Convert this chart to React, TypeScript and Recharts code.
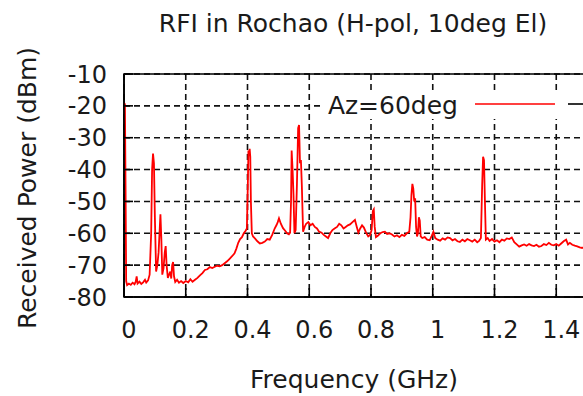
import React from "react";
import {
  LineChart,
  Line,
  XAxis,
  YAxis,
  CartesianGrid,
  ReferenceArea,
} from "recharts";

// spectrum: frequency (GHz) and received power (dBm)
const FREQ_GHZ = [
  0.0, 0.003, 0.005, 0.007, 0.01, 0.016, 0.022, 0.028, 0.034, 0.038, 0.041,
  0.044, 0.05, 0.056, 0.062, 0.068, 0.072, 0.078, 0.083, 0.088, 0.091, 0.094,
  0.097, 0.1, 0.104, 0.108, 0.112, 0.116, 0.118, 0.121, 0.124, 0.128, 0.132,
  0.135, 0.138, 0.142, 0.146, 0.15, 0.153, 0.156, 0.159, 0.162, 0.166, 0.172,
  0.178, 0.185, 0.192, 0.2, 0.208, 0.215, 0.222, 0.23, 0.238, 0.246, 0.254,
  0.262, 0.27, 0.278, 0.286, 0.294, 0.302, 0.31, 0.318, 0.326, 0.334, 0.342,
  0.35, 0.358, 0.364, 0.37, 0.376, 0.382, 0.388, 0.394, 0.398, 0.401, 0.403,
  0.405, 0.407, 0.409, 0.411, 0.414, 0.418, 0.424, 0.432, 0.44, 0.448, 0.456,
  0.464, 0.472, 0.48, 0.488, 0.494, 0.498, 0.502, 0.508, 0.515, 0.522, 0.528,
  0.534, 0.538, 0.541, 0.543, 0.546, 0.549, 0.552, 0.556, 0.56, 0.564, 0.567,
  0.57, 0.573, 0.576, 0.58, 0.585, 0.59, 0.597, 0.604, 0.611, 0.618, 0.625,
  0.632, 0.64, 0.647, 0.654, 0.661, 0.668, 0.675, 0.682, 0.69, 0.697, 0.704,
  0.711, 0.718, 0.725, 0.732, 0.74, 0.748, 0.754, 0.759, 0.765, 0.771, 0.777,
  0.784, 0.791, 0.797, 0.802, 0.806, 0.809, 0.812, 0.816, 0.822, 0.83, 0.838,
  0.845, 0.852, 0.86, 0.868, 0.876, 0.884, 0.892, 0.9, 0.908, 0.916, 0.924,
  0.928, 0.931, 0.934, 0.937, 0.94, 0.943, 0.946, 0.949, 0.952, 0.955, 0.958,
  0.961, 0.966, 0.974, 0.982, 0.99, 0.996, 1.002, 1.008, 1.016, 1.024, 1.032,
  1.04, 1.048, 1.056, 1.064, 1.072, 1.08, 1.088, 1.096, 1.104, 1.112, 1.12,
  1.128, 1.136, 1.144, 1.15, 1.156, 1.16, 1.163, 1.166, 1.169, 1.172, 1.178,
  1.184, 1.192, 1.2, 1.208, 1.216, 1.224, 1.232, 1.24, 1.248, 1.256, 1.264,
  1.272, 1.28, 1.288, 1.296, 1.304, 1.312, 1.32, 1.328, 1.336, 1.344, 1.352,
  1.36, 1.368, 1.376, 1.384, 1.392, 1.4, 1.408, 1.416, 1.424, 1.432, 1.438,
  1.444, 1.452, 1.46, 1.468, 1.476, 1.484, 1.492, 1.5,
];

const POWER_DBM = [
  -19, -19.5, -45, -75, -76.3, -75.8, -76.2, -75.5, -76, -75.2, -73.5, -75.8,
  -75.2, -75.9, -75.4, -74.6, -75.5, -74.8, -73, -60, -40, -35, -38, -55, -72,
  -70, -66, -58, -54, -62, -73, -71, -66, -64, -70, -74, -73, -72, -74.2, -70,
  -69, -73.5, -75.3, -74.6, -75.5, -75, -75.6, -75, -75.4, -74.4, -75.2, -74.6,
  -74, -73.2, -72.5, -71.5, -71.3, -70.6, -70.9, -70.5, -70.2, -70.4, -70,
  -69.4, -68.8, -68, -67.2, -66.3, -64.8, -63, -61.8, -61.2, -60, -59.2, -58.5,
  -45, -34, -35.5, -33.5, -36, -50, -60, -61, -61.6, -62.5, -63.2, -63, -62.6,
  -61.8, -62, -60.5, -58.5, -57.4, -56.5, -55.3, -57, -58.4, -59.2, -60, -60.3,
  -59.8, -50, -34, -40, -48, -60, -59, -45, -27, -26, -38, -37, -45, -59.5, -58,
  -57, -56.5, -57.5, -57, -58, -58.5, -59.5, -59.8, -60.5, -61, -61.5, -60,
  -59, -58.5, -58, -57, -57.5, -58.5, -58, -57.5, -57.2, -56.5, -55.8, -58,
  -59.8, -58.5, -57.5, -58.2, -59.8, -61, -60.5, -59, -53, -52.5, -58, -61.2,
  -60.8, -60, -59.6, -59.5, -60.2, -60, -60.4, -61, -60.6, -61.2, -60.5, -60.8,
  -60, -59.5, -55, -48, -44.5, -46, -50, -49, -58, -61, -60, -55, -56, -61,
  -61.5, -61.2, -62, -62.2, -61, -59.5, -61.5, -62, -62.3, -61.6, -62, -61.3,
  -61.5, -62.2, -61.8, -62.5, -62.7, -62, -62.5, -61.8, -62.2, -62.6, -62,
  -62.8, -62.4, -61.5, -45, -36, -37, -50, -62, -61.5, -62.4, -61.8, -62.6,
  -62.2, -62.8, -62, -62.3, -61.6, -61.8, -61.3, -62.8, -63.5, -64.2, -63.8,
  -63.5, -63.9, -63.4, -63.8, -64, -63.6, -64.2, -64, -63.4, -63.7, -63,
  -63.6, -63.8, -63.4, -63.9, -63.2, -62.5, -62, -63.5, -63, -63.6, -63.9,
  -64.1, -64.4, -64.6, -64.2, -64.5,
];

const X_TICKS = [0, 0.2, 0.4, 0.6, 0.8, 1, 1.2, 1.4];
const Y_TICKS = [-80, -70, -60, -50, -40, -30, -20, -10];

const TITLE = "RFI in Rochao (H-pol, 10deg El)";
const X_LABEL = "Frequency (GHz)";
const Y_LABEL = "Received Power (dBm)";
const SERIES_NAME = "Az=60deg";

const data = FREQ_GHZ.map((f, i) => ({ f, p: POWER_DBM[i] }));

const FONT = "'DejaVu Sans', sans-serif";
const INK = "#1a1a1a";

export default function App() {
  return (
    <div
      style={{
        position: "absolute",
        left: 0,
        top: 0,
        width: 583,
        height: 396,
        overflow: "hidden",
        background: "#fff",
        fontFamily: FONT,
      }}
    >
      <LineChart
        width={620}
        height={396}
        data={data}
        margin={{ top: 74, right: 2, bottom: 0, left: 0 }}
      >
        <CartesianGrid
          xAxisId="bottom"
          yAxisId="left"
          stroke="#111"
          strokeWidth={1.6}
          strokeDasharray="6 4"
        />
        <XAxis
          xAxisId="bottom"
          dataKey="f"
          type="number"
          domain={[0, 1.6]}
          ticks={X_TICKS}
          interval={0}
          height={99}
          allowDataOverflow
          axisLine={{ stroke: "#000", strokeWidth: 1.6 }}
          tickLine={{ stroke: "#000", strokeWidth: 1.6 }}
          tickSize={-9}
          tickMargin={33}
          tick={{ fill: INK, fontSize: 24, fontFamily: FONT, dx: 5 }}
        />
        <XAxis
          xAxisId="top"
          orientation="top"
          dataKey="f"
          type="number"
          domain={[0, 1.6]}
          ticks={X_TICKS}
          interval={0}
          height={0}
          axisLine={{ stroke: "#000", strokeWidth: 1.6 }}
          tickLine={{ stroke: "#000", strokeWidth: 1.6 }}
          tickSize={-9}
          tickFormatter={() => ""}
        />
        <YAxis
          yAxisId="left"
          type="number"
          domain={[-80, -10]}
          ticks={Y_TICKS}
          interval={0}
          width={124}
          axisLine={{ stroke: "#000", strokeWidth: 1.6 }}
          tickLine={{ stroke: "#000", strokeWidth: 1.6 }}
          tickSize={-9}
          tickMargin={26}
          tick={{ fill: INK, fontSize: 24, fontFamily: FONT }}
        />
        <ReferenceArea
          xAxisId="bottom"
          yAxisId="left"
          x1={0}
          x2={1.6}
          y1={-80}
          y2={-10}
          fill="none"
          stroke="#000"
          strokeWidth={1.6}
          ifOverflow="visible"
        />
        <Line
          xAxisId="bottom"
          yAxisId="left"
          type="linear"
          dataKey="p"
          name={SERIES_NAME}
          stroke="#ff0000"
          strokeWidth={1.8}
          dot={false}
          isAnimationActive={false}
        />
      </LineChart>
      <svg
        width={583}
        height={396}
        style={{ position: "absolute", left: 0, top: 0, pointerEvents: "none" }}
      >
        <text x={353} y={32} textAnchor="middle" fontSize={25} fill={INK}>
          {TITLE}
        </text>
        <text x={354} y={388} textAnchor="middle" fontSize={25} fill={INK}>
          {X_LABEL}
        </text>
        <text
          x={36}
          y={188}
          textAnchor="middle"
          fontSize={25}
          fill={INK}
          transform="rotate(-90 36 188)"
        >
          {Y_LABEL}
        </text>
        <rect x={322} y={92} width={261} height={27} fill="#fff" />
        <text x={458} y={114} textAnchor="end" fontSize={25} fill={INK}>
          {SERIES_NAME}
        </text>
        <line x1={475} y1={104} x2={555} y2={104} stroke="#ff0000" strokeWidth={1.6} />
        <line x1={568} y1={104} x2={583} y2={104} stroke="#000" strokeWidth={1.6} />
      </svg>
    </div>
  );
}
